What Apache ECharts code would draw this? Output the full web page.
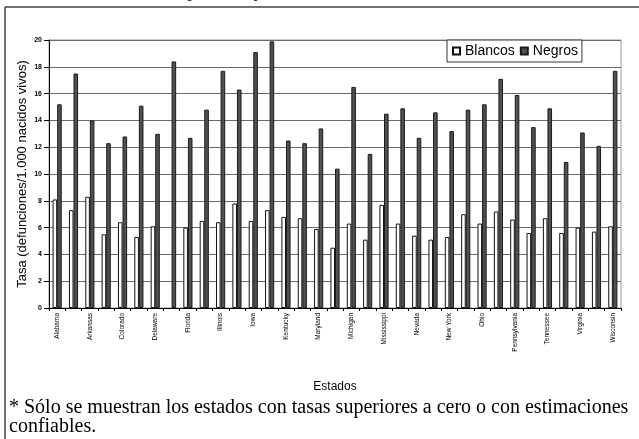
<!DOCTYPE html>
<html>
<head>
<meta charset="utf-8">
<title>Tasas por estado</title>
<script src="https://cdn.jsdelivr.net/npm/echarts@6/dist/echarts.min.js"></script>
<style>
    html, body { margin: 0; padding: 0; background: #fff; }
    #chart { width: 639px; height: 439px; }
</style>
</head>
<body>
<div id="chart"></div>
<script>
// estados (solo se rotula uno de cada dos en el eje)
var states = ['Alabama', 'Arizona', 'Arkansas', 'California', 'Colorado', 'Connecticut', 'Delaware',
    'District of Columbia', 'Florida', 'Georgia', 'Illinois', 'Indiana', 'Iowa', 'Kansas', 'Kentucky',
    'Louisiana', 'Maryland', 'Massachusetts', 'Michigan', 'Minnesota', 'Mississippi', 'Missouri',
    'Nevada', 'New Jersey', 'New York', 'North Carolina', 'Ohio', 'Oklahoma', 'Pennsylvania',
    'South Carolina', 'Tennessee', 'Texas', 'Virginia', 'Washington', 'Wisconsin'];

// tasas (defunciones/1.000 nacidos vivos)
var blancos = [8.1, 7.3, 8.3, 5.5, 6.4, 5.3, 6.1, null, 6.0, 6.5, 6.4, 7.8, 6.5, 7.3, 6.8, 6.7, 5.9, 4.5,
    6.3, 5.1, 7.7, 6.3, 5.4, 5.1, 5.3, 7.0, 6.3, 7.2, 6.6, 5.6, 6.7, 5.6, 6.0, 5.7, 6.1];
var negros = [15.2, 17.5, 14.0, 12.3, 12.8, 15.1, 13.0, 18.4, 12.7, 14.8, 17.7, 16.3, 19.1, 19.9, 12.5,
    12.3, 13.4, 10.4, 16.5, 11.5, 14.5, 14.9, 12.7, 14.6, 13.2, 14.8, 15.2, 17.1, 15.9, 13.5, 14.9,
    10.9, 13.1, 12.1, 17.7];

var yMin = 0, yMax = 20, yStep = 2;

var sans = 'Arial, "Liberation Sans", sans-serif';
var serif = '"Times New Roman", "Liberation Serif", serif';

function initChart() {
    var myChart = echarts.init(document.getElementById('chart'));

    var option = {
        animation: false,
        title: {
            // leyenda superior, cortada en la imagen original
            text: 'por raza y estado en EE.UU., 1998',
            left: 'center',
            top: -17,
            padding: 0,
            textStyle: { fontFamily: serif, fontSize: 19, fontWeight: 'normal', color: '#222' }
        },
        legend: {
            data: ['Blancos', 'Negros'],
            left: 447,
            top: 40,
            orient: 'horizontal',
            icon: 'rect',
            itemWidth: 7,
            itemHeight: 7,
            itemGap: 5,
            padding: [4, 4, 4, 5],
            borderColor: '#333',
            borderWidth: 1,
            backgroundColor: '#fff',
            textStyle: { fontFamily: sans, fontSize: 14, color: '#000' }
        },
        grid: {
            left: 49,
            right: 18,
            top: 40,
            bottom: 131,
            show: true,
            borderColor: '#999',
            borderWidth: 1
        },
        xAxis: {
            type: 'category',
            data: states,
            name: 'Estados',
            nameLocation: 'middle',
            nameGap: 73,
            nameMoveOverlap: false,
            nameTextStyle: { fontFamily: sans, fontSize: 12, color: '#000' },
            axisLine: { lineStyle: { color: '#000', width: 1 } },
            axisTick: { show: true, interval: 0, length: 3, lineStyle: { color: '#000' } },
            axisLabel: {
                interval: 1,
                rotate: 90,
                margin: 5,
                fontFamily: sans,
                fontSize: 6.5,
                color: '#000'
            },
            splitLine: { show: false }
        },
        yAxis: {
            type: 'value',
            min: yMin,
            max: yMax,
            interval: yStep,
            name: 'Tasa (defunciones/1.000 nacidos vivos)',
            nameLocation: 'middle',
            nameRotate: 90,
            nameGap: 20,
            nameMoveOverlap: false,
            nameTextStyle: { fontFamily: sans, fontSize: 13, color: '#000' },
            axisLine: { show: true, lineStyle: { color: '#000', width: 1 } },
            axisTick: { show: true, length: 5, lineStyle: { color: '#000' } },
            axisLabel: { margin: 7, fontFamily: sans, fontSize: 7, fontWeight: 'bold', color: '#000' },
            splitLine: { show: true, lineStyle: { color: '#6a6a6a', width: 1 } }
        },
        series: [
            {
                name: 'Blancos',
                type: 'bar',
                data: blancos,
                barGap: '0%',
                barCategoryGap: '44%',
                itemStyle: { color: '#fff', borderColor: '#111', borderWidth: 1 }
            },
            {
                name: 'Negros',
                type: 'bar',
                data: negros,
                itemStyle: { color: '#505050', borderColor: '#1a1a1a', borderWidth: 1 }
            }
        ],
        graphic: [
            // marco del gráfico
            { type: 'line', shape: { x1: 5, y1: 7, x2: 639, y2: 7 }, style: { stroke: '#444', lineWidth: 1.5 } },
            { type: 'line', shape: { x1: 5, y1: 7, x2: 5, y2: 439 }, style: { stroke: '#444', lineWidth: 1.5 } },
            {
                type: 'text',
                left: 9,
                top: 398,
                style: {
                    text: '* Sólo se muestran los estados con tasas superiores a cero o con estimaciones\nconfiables.',
                    font: '20px ' + serif,
                    lineHeight: 19,
                    fill: '#000'
                }
            }
        ]
    };

    myChart.setOption(option);
}

initChart();
</script>
</body>
</html>
